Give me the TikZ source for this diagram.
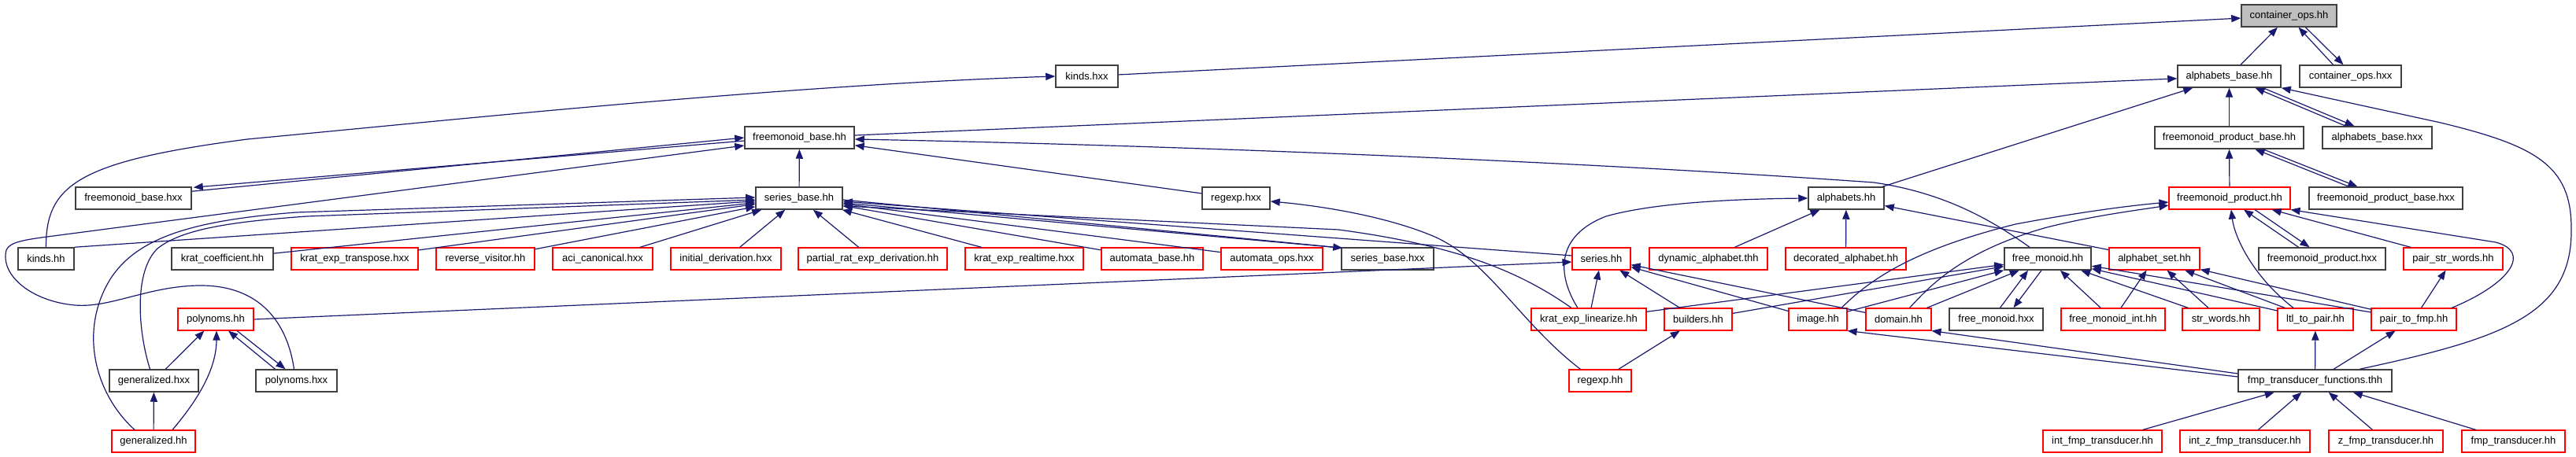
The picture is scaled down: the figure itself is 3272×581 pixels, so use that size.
\documentclass[tikz,border=0pt]{standalone}
\usepackage{fontspec}
\setmainfont{Liberation Sans}
\usetikzlibrary{arrows.meta,calc}
\definecolor{edgec}{HTML}{191970}
\definecolor{colk}{HTML}{404040}
\definecolor{colr}{HTML}{FF0000}
\definecolor{colg}{HTML}{BFBFBF}
\tikzset{
  nbase/.style={draw, line width=0.7pt, fill=white, minimum height=14pt, inner sep=0pt,
    font=\fontsize{6.5pt}{7.8pt}\selectfont, text=black},
  boxk/.style={nbase, draw=colk, line width=0.75pt},
  boxr/.style={nbase, draw=colr, line width=0.55pt},
  boxg/.style={nbase, draw=colk, fill=colg, line width=0.75pt},
  wd/.style={minimum width=#1*0.5pt},
  edg/.style={draw=edgec, line width=0.6pt, -{Triangle[length=6pt,width=4.6pt]}},
}
\begin{document}
\begin{tikzpicture}[x=0.5pt,y=-0.5pt]
\useasboundingbox (0,0) rectangle (3272,581);
\fill[white] (0,0) rectangle (3272,581);
% row 0
\node[boxg, wd=121] (coh) at (2907.5,20) {container\_ops.hh};
% row 1
\node[boxk, wd=79] (kx) at (1380.5,97) {kinds.hxx};
\node[boxk, wd=131] (abh) at (2831.5,97) {alphabets\_base.hh};
\node[boxk, wd=129] (cox) at (2985.5,97) {container\_ops.hxx};
% row 2
\node[boxk, wd=139] (fbh) at (1015.5,175) {freemonoid\_base.hh};
\node[boxk, wd=189] (fpbh) at (2831.5,175) {freemonoid\_product\_base.hh};
\node[boxk, wd=139] (abx) at (3019.5,175) {alphabets\_base.hxx};
% row 3
\node[boxk, wd=147] (fbx) at (169.5,252) {freemonoid\_base.hxx};
\node[boxk, wd=110] (sbh) at (1015,252) {series\_base.hh};
\node[boxk, wd=86] (rgx) at (1570,252) {regexp.hxx};
\node[boxk, wd=96] (alh) at (2345,252) {alphabets.hh};
\node[boxr, wd=154] (fph) at (2832,252) {freemonoid\_product.hh};
\node[boxk, wd=195] (fpbx) at (3030.5,252) {freemonoid\_product\_base.hxx};
% row 4
\node[boxk, wd=71] (kh) at (58.5,329) {kinds.hh};
\node[boxk, wd=129] (kc) at (282.5,329) {krat\_coefficient.hh};
\node[boxr, wd=161] (ket) at (450.5,329) {krat\_exp\_transpose.hxx};
\node[boxr, wd=125] (rv) at (616.5,329) {reverse\_visitor.hh};
\node[boxr, wd=127] (aci) at (765.5,329) {aci\_canonical.hxx};
\node[boxr, wd=140] (idv) at (922,329) {initial\_derivation.hxx};
\node[boxr, wd=189] (prd) at (1108.5,329) {partial\_rat\_exp\_derivation.hh};
\node[boxr, wd=150] (kerl) at (1301,329) {krat\_exp\_realtime.hxx};
\node[boxr, wd=129] (ab) at (1463.5,329) {automata\_base.hh};
\node[boxr, wd=129] (ao) at (1615.5,329) {automata\_ops.hxx};
\node[boxk, wd=117] (sbx) at (1762.5,329) {series\_base.hxx};
\node[boxr, wd=74] (sh) at (2034,329) {series.hh};
\node[boxr, wd=150] (da) at (2170,329) {dynamic\_alphabet.thh};
\node[boxr, wd=153] (dea) at (2344.5,329) {decorated\_alphabet.hh};
\node[boxk, wd=110] (fmh) at (2601,329) {free\_monoid.hh};
\node[boxr, wd=115] (aset) at (2736.5,329) {alphabet\_set.hh};
\node[boxk, wd=161] (fpx) at (2949.5,329) {freemonoid\_product.hxx};
\node[boxr, wd=126] (psw) at (3116,329) {pair\_str\_words.hh};
% row 5
\node[boxr, wd=96] (ph) at (274,406) {polynoms.hh};
\node[boxr, wd=146] (kel) at (2018,406) {krat\_exp\_linearize.hh};
\node[boxr, wd=86] (bh) at (2157,406) {builders.hh};
\node[boxr, wd=74] (im) at (2309,406) {image.hh};
\node[boxr, wd=83] (dm) at (2411.5,406) {domain.hh};
\node[boxk, wd=119] (fmx) at (2535.5,406) {free\_monoid.hxx};
\node[boxr, wd=132] (fmi) at (2684,406) {free\_monoid\_int.hh};
\node[boxr, wd=98] (sw) at (2821,406) {str\_words.hh};
\node[boxr, wd=96] (lp) at (2941,406) {ltl\_to\_pair.hh};
\node[boxr, wd=108] (pf) at (3066,406) {pair\_to\_fmp.hh};
% row 6
\node[boxk, wd=113] (ghx) at (195.5,484) {generalized.hxx};
\node[boxk, wd=103] (phx) at (376.5,484) {polynoms.hxx};
\node[boxr, wd=79] (rh) at (2032.5,484) {regexp.hh};
\node[boxk, wd=195] (ftf) at (2940.5,484) {fmp\_transducer\_functions.thh};
% row 7
\node[boxr, wd=106] (gh) at (195,561) {generalized.hh};
\node[boxr, wd=151] (ifm) at (2670.5,561) {int\_fmp\_transducer.hh};
\node[boxr, wd=165] (izf) at (2851.5,561) {int\_z\_fmp\_transducer.hh};
\node[boxr, wd=145] (zf) at (3030.5,561) {z\_fmp\_transducer.hh};
\node[boxr, wd=131] (ft) at (3192.5,561) {fmp\_transducer.hh};

% ---- edges: container_ops.hh
\draw[edg] (abh) -- (coh);
\draw[edg] ($(cox.north)+(-22,0)$) -- ($(coh.south)+(12,0)$);
\draw[edg] ($(coh.south)+(21,0)$) -- ($(cox.north)+(-9,0)$);
\draw[edg] (kx) -- (coh);
\draw[edg] (kh.north) .. controls (58,235) and (100,205) .. (314,177)
  .. controls (600,150) and (1000,108) .. (kx.west);
% ---- alphabets_base.hh
\draw[edg] (fbh) -- (abh);
\draw[edg] (alh) -- (abh);
\draw[edg] (fpbh) -- (abh);
\draw[edg] ($(abx.north)+(-40,0)$) -- ($(abh.south)+(33,0)$);
\draw[edg] ($(abh.south)+(43,0)$) -- ($(abx.north)+(-29,0)$);
\draw[edg] ($(ftf.north)+(57,0)$) .. controls (3180,430) and (3268,400) .. (3266,290)
  .. controls (3266,210) and (3220,185) .. (3100,156) -- (abh.south east);
% ---- freemonoid_product_base.hh
\draw[edg] (fph) -- (fpbh);
\draw[edg] ($(fpbx.north)+(-47,0)$) -- ($(fpbh.south)+(33,0)$);
\draw[edg] ($(fpbh.south)+(43,0)$) -- ($(fpbx.north)+(-36,0)$);
% ---- freemonoid_base.hh
\draw[edg] ($(fbh.west)+(0,4)$) -- ($(fbx.north east)+(2,1)$);
\draw[edg] ($(fbx.north east)+(0,6)$) -- ($(fbh.west)+(0,0)$);
\draw[edg] ($(phx.north)+(-3,0)$) .. controls (365,410) and (330,363) .. (255,363)
  .. controls (190,363) and (140,392) .. (95,388)
  .. controls (40,383) and (0,350) .. (8,318)
  .. controls (12,308) and (30,305) .. (60,301) -- ($(fbh.west)+(0,10)$);
\draw[edg] (sbh) -- (fbh);
\draw[edg] (rgx) -- (fbh);
\draw[edg] ($(fmh.north)+(-23,0)$) .. controls (2530,280) and (2470,245) .. (2380,232)
  .. controls (2000,205) and (1500,185) .. ($(fbh.east)+(0,2)$);
% ---- series_base.hh
\draw[edg] (kh.north east) -- (sbh);
\draw[edg] ($(gh.north)+(-24,0)$) .. controls (120,500) and (100,420) .. (140,355)
  .. controls (175,300) and (250,280) .. (376,270) -- ($(sbh.west)+(0,-1)$);
\draw[edg] ($(ghx.north)+(-5,0)$) .. controls (175,420) and (170,345) .. (200,316)
  .. controls (230,292) and (290,282) .. (390,275) -- ($(sbh.west)+(0,2)$);
\draw[edg] (kc) -- (sbh);
\draw[edg] (ket) -- (sbh);
\draw[edg] (rv) -- (sbh);
\draw[edg] (aci) -- (sbh);
\draw[edg] (idv) -- (sbh);
\draw[edg] (prd) -- (sbh);
\draw[edg] (kerl) -- (sbh);
\draw[edg] (ab) -- (sbh);
\draw[edg] (ao) -- (sbh);
\draw[edg] ($(sbh.east)+(0,2)$) -- ($(sbx.north west)+(2,1)$);
\draw[edg] ($(sbx.north west)+(-10,0)$) -- ($(sbh.east)+(0,6)$);
\draw[edg] ($(sh.west)+(0,-4)$) -- (sbh);
\draw[edg] ($(kel.north)+(-22,0)$) .. controls (1930,345) and (1850,312) .. (1700,292)
  -- ($(sbh.east)+(0,10)$);
% ---- regexp.hxx
\draw[edg] ($(rh.north)+(-25,0)$) .. controls (1930,410) and (1890,330) .. (1820,300)
  .. controls (1760,275) and (1680,262) .. ($(rgx.east)+(0,4)$);
% ---- series.hh
\draw[edg] (ph.east) -- ($(sh.west)+(0,4)$);
\draw[edg] (kel) -- (sh);
\draw[edg] (bh) -- (sh);
\draw[edg] (im) -- (sh);
\draw[edg] (dm) -- (sh);
% ---- alphabets.hh
\draw[edg] ($(kel.north)+(-14,0)$) .. controls (1978,350) and (1975,300) .. (2040,275)
  .. controls (2100,258) and (2200,253) .. (alh.west);
\draw[edg] (da) -- (alh);
\draw[edg] (dea) -- (alh);
\draw[edg] (aset) -- (alh);
% ---- free_monoid.hh
\draw[edg] (kel) -- (fmh);
\draw[edg] (bh) -- (fmh);
\draw[edg] (im) -- (fmh);
\draw[edg] (dm) -- (fmh);
\draw[edg] ($(fmx.north)+(5,0)$) -- ($(fmh.south)+(-25,0)$);
\draw[edg] ($(fmh.south)+(-8,0)$) -- ($(fmx.north)+(22,0)$);
\draw[edg] (fmi) -- (fmh);
\draw[edg] (sw) -- (fmh);
\draw[edg] (lp) -- (fmh);
\draw[edg] (pf) -- (fmh);
% ---- alphabet_set.hh
\draw[edg] (fmi) -- (aset);
\draw[edg] (sw) -- (aset);
\draw[edg] (lp) -- (aset);
\draw[edg] (pf) -- (aset);
% ---- freemonoid_product.hh
\draw[edg] ($(im.north)+(30,0)$) .. controls (2380,350) and (2440,315) .. (2560,285)
  .. controls (2640,270) and (2700,262) .. ($(fph.west)+(0,5)$);
\draw[edg] ($(dm.north)+(14,0)$) .. controls (2450,365) and (2490,320) .. (2600,289)
  .. controls (2660,274) and (2710,268) .. ($(fph.west)+(0,9)$);
\draw[edg] ($(lp.north)+(-28,0)$) .. controls (2860,350) and (2838,300) .. ($(fph.south)+(2,0)$);
\draw[edg] ($(fpx.north)+(-30,0)$) -- ($(fph.south)+(18,0)$);
\draw[edg] ($(fph.south)+(32,0)$) -- ($(fpx.north)+(-16,0)$);
\draw[edg] (psw) -- (fph);
\draw[edg] ($(pf.north)+(48,0)$) .. controls (3190,360) and (3215,320) .. (3170,308)
  -- (fph.south east);
\draw[edg] (pf) -- (psw);
% ---- fmp_transducer_functions.thh
\draw[edg] (ftf) -- (lp);
\draw[edg] (ftf) -- (pf);
\draw[edg] ($(ftf.west)+(0,-5)$) -- (im.south east);
\draw[edg] ($(ftf.west)+(0,-9)$) -- (dm.south east);
\draw[edg] (ifm) -- (ftf);
\draw[edg] (izf) -- (ftf);
\draw[edg] (zf) -- (ftf);
\draw[edg] (ft) -- (ftf);
\draw[edg] (rh) -- (bh);
% ---- polynoms / generalized
\draw[edg] (ghx) -- (ph);
\draw[edg] ($(gh.north)+(24,0)$) .. controls (250,510) and (275,470) .. ($(ph.south)+(1,0)$);
\draw[edg] ($(phx.north)+(-27,0)$) -- ($(ph.south)+(16,0)$);
\draw[edg] ($(ph.south)+(27,0)$) -- ($(phx.north)+(-14,0)$);
\draw[edg] (gh) -- (ghx);
\end{tikzpicture}
\end{document}
